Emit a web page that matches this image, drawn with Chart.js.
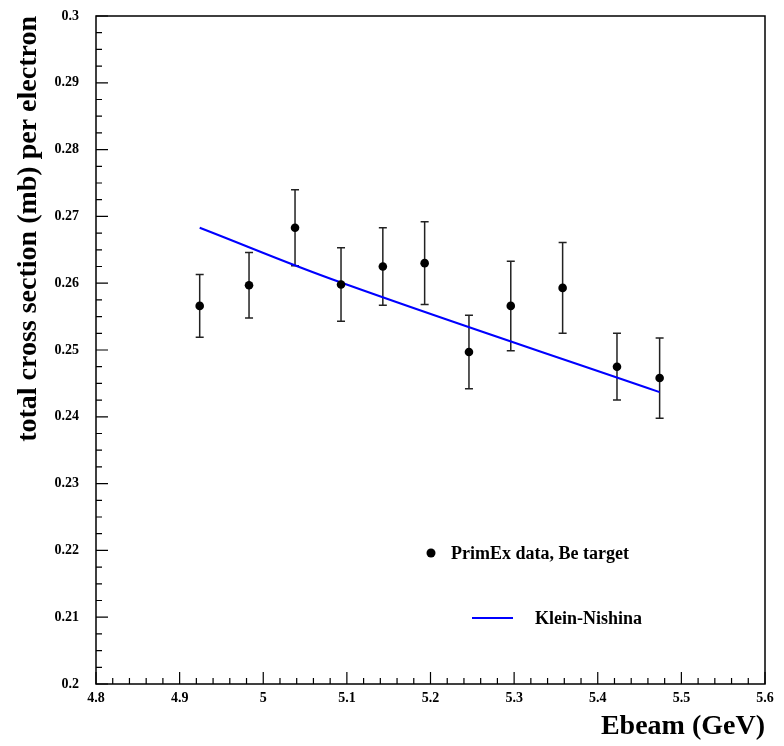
<!DOCTYPE html>
<html>
<head>
<meta charset="utf-8">
<script src="https://cdn.jsdelivr.net/npm/chart.js@4.4.1/dist/chart.umd.min.js"></script>
<style>
  html, body { margin: 0; padding: 0; background: #fff; }
  #c { display: block; }
</style>
</head>
<body>
<canvas id="c" width="784" height="746"></canvas>
<script>
// PrimEx Be target, measured points
const ebeam    = [4.924, 4.983, 5.038, 5.093, 5.143, 5.193, 5.246, 5.296, 5.358, 5.423, 5.474];
const sigma    = [0.2566, 0.2597, 0.2683, 0.2598, 0.2625, 0.2630, 0.2497, 0.2566, 0.2593, 0.2475, 0.2458];
const sigmaErr = [0.0047, 0.0049, 0.0057, 0.0055, 0.0058, 0.0062, 0.0055, 0.0067, 0.0068, 0.0050, 0.0060];

// Klein-Nishina curve
const knEbeam = [4.924, 5.093, 5.474];
const knSigma = [0.2683, 0.2601, 0.2437];

const xTicks = [4.8, 4.9, 5.0, 5.1, 5.2, 5.3, 5.4, 5.5, 5.6];
const xTickLabels = ['4.8', '4.9', '5', '5.1', '5.2', '5.3', '5.4', '5.5', '5.6'];
const yTicks = [0.2, 0.21, 0.22, 0.23, 0.24, 0.25, 0.26, 0.27, 0.28, 0.29, 0.3];
const yTickLabels = ['0.2', '0.21', '0.22', '0.23', '0.24', '0.25', '0.26', '0.27', '0.28', '0.29', '0.3'];

const serif = "'Liberation Serif', 'Times New Roman', serif";

const rootStyle = {
  id: 'rootStyle',
  beforeDatasetsDraw(chart) {
    const ctx = chart.ctx;
    const xs = chart.scales.x, ys = chart.scales.y;
    ctx.save();
    ctx.strokeStyle = '#222';
    ctx.lineWidth = 1.5;
    ebeam.forEach((e, i) => {
      const px = xs.getPixelForValue(e);
      const top = ys.getPixelForValue(sigma[i] + sigmaErr[i]);
      const bot = ys.getPixelForValue(sigma[i] - sigmaErr[i]);
      ctx.beginPath();
      ctx.moveTo(px, top); ctx.lineTo(px, bot);
      ctx.moveTo(px - 4, top); ctx.lineTo(px + 4, top);
      ctx.moveTo(px - 4, bot); ctx.lineTo(px + 4, bot);
      ctx.stroke();
    });
    ctx.restore();
  },
  afterDraw(chart) {
    const ctx = chart.ctx;
    const a = chart.chartArea;
    const xs = chart.scales.x, ys = chart.scales.y;
    ctx.save();
    ctx.strokeStyle = '#000';
    ctx.lineWidth = 1.5;
    ctx.strokeRect(a.left, a.top, a.right - a.left, a.bottom - a.top);

    // ticks pointing into the frame
    ctx.lineWidth = 1.2;
    ctx.beginPath();
    for (let i = 0; i <= 40; i++) {
      const py = ys.getPixelForValue(0.2 + i * 0.0025);
      ctx.moveTo(a.left, py);
      ctx.lineTo(a.left + (i % 4 === 0 ? 12 : 6), py);
    }
    for (let i = 0; i <= 40; i++) {
      const px = xs.getPixelForValue(4.8 + i * 0.02);
      ctx.moveTo(px, a.bottom);
      ctx.lineTo(px, a.bottom - (i % 5 === 0 ? 12 : 6));
    }
    ctx.stroke();

    // legend
    const ds = chart.data.datasets;
    ctx.font = 'bold 18px ' + serif;
    ctx.fillStyle = '#000';
    ctx.textBaseline = 'alphabetic';
    ctx.beginPath();
    ctx.arc(431, 553, 4.5, 0, Math.PI * 2);
    ctx.fill();
    ctx.fillText(ds[0].label, 451, 559);
    ctx.strokeStyle = ds[1].borderColor;
    ctx.lineWidth = 2;
    ctx.beginPath();
    ctx.moveTo(472, 618); ctx.lineTo(513, 618);
    ctx.stroke();
    ctx.fillText(ds[1].label, 535, 624);
    ctx.restore();
  }
};

new Chart(document.getElementById('c'), {
  type: 'scatter',
  data: {
    datasets: [{
      label: 'PrimEx data, Be target',
      data: ebeam.map((e, i) => ({ x: e, y: sigma[i] })),
      pointRadius: 4.3,
      pointBackgroundColor: '#000',
      pointBorderWidth: 0,
      showLine: false
    }, {
      label: 'Klein-Nishina',
      data: knEbeam.map((e, i) => ({ x: e, y: knSigma[i] })),
      showLine: true,
      borderColor: '#0000ff',
      borderWidth: 2,
      pointRadius: 0,
      tension: 0.4
    }]
  },
  options: {
    responsive: false,
    animation: false,
    layout: { padding: { left: 0, top: 16, right: 19, bottom: 0 } },
    plugins: { legend: { display: false }, tooltip: { enabled: false } },
    scales: {
      x: {
        type: 'linear',
        min: 4.8,
        max: 5.6,
        afterBuildTicks: s => { s.ticks = xTicks.map(v => ({ value: v })); },
        afterFit: s => { s.height = 62; },
        ticks: {
          callback: (v, i) => xTickLabels[i],
          font: { family: serif, weight: 'bold', size: 14 },
          color: '#000',
          padding: 6,
          maxRotation: 0,
          autoSkip: false
        },
        grid: { display: false, drawTicks: false },
        border: { display: false },
        title: {
          display: true,
          text: 'Ebeam (GeV)',
          align: 'end',
          color: '#000',
          font: { family: serif, weight: 'bold', size: 28 },
          padding: { top: 0, bottom: 2 }
        }
      },
      y: {
        min: 0.2,
        max: 0.3,
        afterBuildTicks: s => { s.ticks = yTicks.map(v => ({ value: v })); },
        afterFit: s => { s.width = 96; s.paddingTop = 0; s.paddingBottom = 0; },
        ticks: {
          callback: (v, i) => yTickLabels[i],
          font: { family: serif, weight: 'bold', size: 14 },
          color: '#000',
          padding: 17,
          autoSkip: false
        },
        grid: { display: false, drawTicks: false },
        border: { display: false },
        title: {
          display: true,
          text: 'total cross section (mb) per electron',
          align: 'end',
          color: '#000',
          font: { family: serif, weight: 'bold', size: 28 },
          padding: { top: 12, bottom: 0 }
        }
      }
    }
  },
  plugins: [rootStyle]
});
</script>
</body>
</html>
